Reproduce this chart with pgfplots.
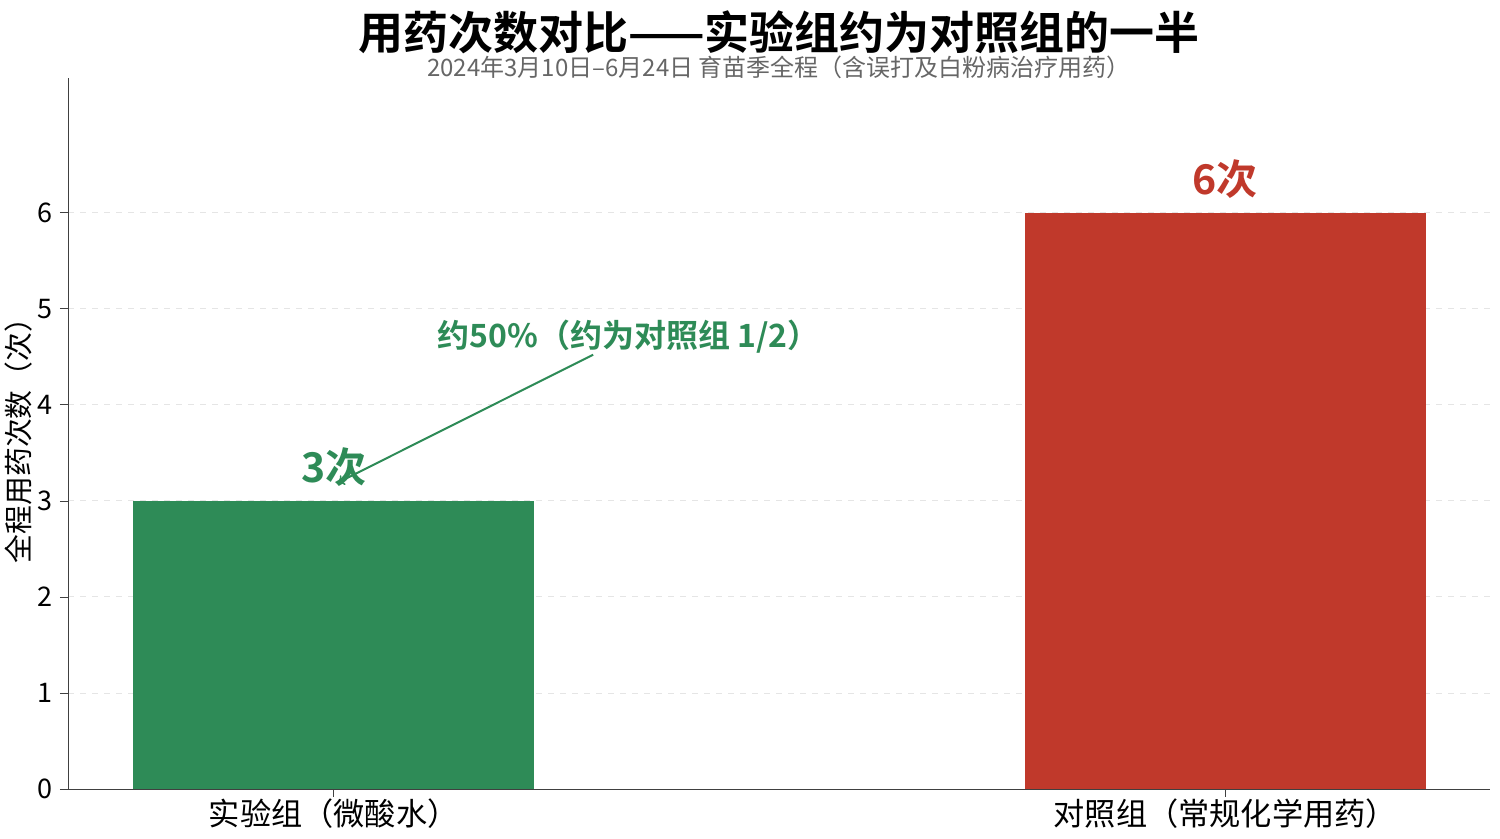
\documentclass[border=0pt]{standalone}
\usepackage{pgfplots}
\pgfplotsset{compat=1.18}
\usepackage{fontspec}
\setmainfont{Noto Sans CJK SC}
\newfontfamily\cjkbold{Noto Sans CJK SC Bold}
\definecolor{grp}{HTML}{2E8B57}
\definecolor{ctl}{HTML}{C0392B}
\definecolor{sub}{HTML}{666666}
\begin{document}
\begin{tikzpicture}
\begin{axis}[
    at={(0,0)}, anchor=south west,
    scale only axis,
    width=711pt, height=355.5pt,
    xmin=-0.298, xmax=1.297,
    ymin=0, ymax=7.4,
    axis x line*=bottom, axis y line*=left,
    axis line style={color=black!75},
    xtick={0,1},
    xticklabels={实验组（微酸水）, 对照组（常规化学用药）},
    ytick={0,1,2,3,4,5,6},
    tick align=outside,
    major tick length=4pt,
    tick style={color=black!75},
    x tick label style={font=\fontsize{15.6}{17}\selectfont, yshift=2.5pt},
    y tick label style={font=\fontsize{13.5}{15}\selectfont},
    /pgf/number format/assume math mode=true,
    ymajorgrids,
    grid style={dashed, color=black!10, line width=0.4pt},
    ylabel={全程用药次数（次）},
    ylabel style={font=\fontsize{14.4}{16}\selectfont, yshift=-4pt},
    clip=false,
]
\addplot[ybar, bar width=0.45, fill=grp, draw=none] coordinates {(0,3)};
\addplot[ybar, bar width=0.45, fill=ctl, draw=none] coordinates {(1,6)};
\node[font=\cjkbold\fontsize{20.5}{22}\selectfont, text=grp] at (axis cs:0,3.35) {3次};
\node[font=\cjkbold\fontsize{20.5}{22}\selectfont, text=ctl] at (axis cs:1,6.35) {6次};
\draw[->, grp, line width=1pt] (axis cs:0.291,4.52) -- (axis cs:0.005,3.19);
\node[font=\cjkbold\fontsize{16}{18}\selectfont, text=grp] at (axis cs:0.331,4.71) {约50\%（约为对照组 1/2）};
\node[font=\cjkbold\fontsize{22.5}{24}\selectfont] at (355.5pt,378.5pt) {用药次数对比——实验组约为对照组的一半};
\node[font=\fontsize{12}{14}\selectfont, text=sub] at (355.5pt,361pt) {2024年3月10日–6月24日 育苗季全程（含误打及白粉病治疗用药）};
\end{axis}
\pgfresetboundingbox
\path (-34pt,-25pt) rectangle (716pt,394.5pt);
\end{tikzpicture}
\end{document}
